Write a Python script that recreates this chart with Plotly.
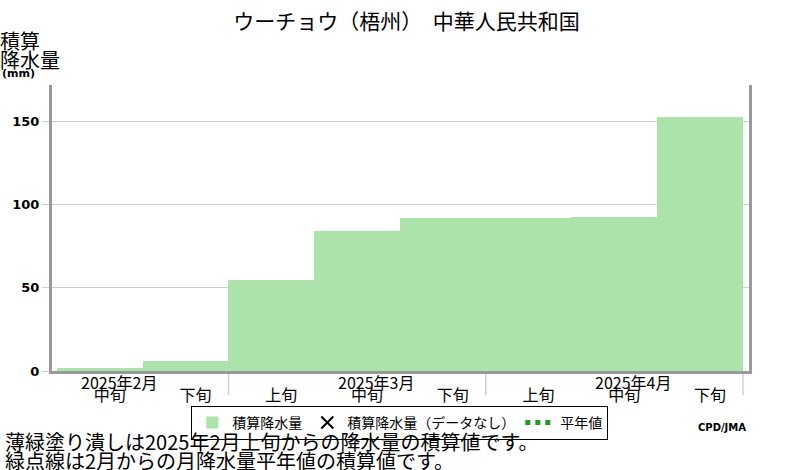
import plotly.graph_objects as go

# ---- data ----
dekads = ["2月中旬", "2月下旬", "3月上旬", "3月中旬", "3月下旬", "4月上旬", "4月中旬", "4月下旬"]
dekad_labels = ["中旬", "下旬", "上旬", "中旬", "下旬", "上旬", "中旬", "下旬"]
cum_precip = [1.6, 6.3, 54.5, 84.0, 91.8, 92.0, 92.4, 152.7]
month_labels = ["2025年2月", "2025年3月", "2025年4月"]
month_label_at = ["2月中旬", "3月中旬", "4月中旬"]
month_bounds = [1.5, 4.5, 7.5]
y_ticks = [0, 50, 100, 150]

FONT = "Noto Sans CJK JP"
BAR = "#ace3aa"
GRID = "#d0d0d0"
AXIS = "#999999"

fig = go.Figure()
fig.add_trace(go.Bar(x=dekads, y=cum_precip, name="積算降水量",
                     marker=dict(color=BAR, line=dict(width=0)), width=1.0))
fig.add_trace(go.Scatter(x=[None], y=[None], mode="markers", name="積算降水量（データなし）",
                         marker=dict(symbol="x-thin", color="black", size=5,
                                     line=dict(width=2, color="black"))))
fig.add_trace(go.Scatter(x=[None], y=[None], mode="lines", name="平年値",
                         line=dict(color="#229922", width=2, dash="dot")))

fig.update_layout(
    width=800, height=470,
    margin=dict(l=52, r=51, t=85, b=99, autoexpand=False),
    paper_bgcolor="white", plot_bgcolor="white",
    font=dict(family=FONT, color="black"),
    bargap=0,
    title=dict(text="ウーチョウ（梧州）　中華人民共和国", font=dict(family=FONT, size=21),
               xref="container", yref="container", x=0.508, y=1 - 22 / 470,
               xanchor="center", yanchor="middle"),
    showlegend=True,
    legend=dict(orientation="h", x=0.499, y=-0.122, xanchor="center", yanchor="top",
                bordercolor="black", borderwidth=1, bgcolor="rgba(255,255,255,0)",
                font=dict(family=FONT, size=14),
                itemwidth=30, tracegroupgap=0, itemsizing="constant"),
)

fig.update_xaxes(
    type="category", categoryorder="array", categoryarray=dekads,
    range=[-0.558, 7.57], automargin=False,
    tickmode="array", tickvals=dekads, ticktext=dekad_labels,
    ticks="", ticklabelstandoff=8, ticklabelshift=10,
    tickfont=dict(family=FONT, size=16),
    showgrid=False, zeroline=False,
    showline=True, linecolor=AXIS, linewidth=3, mirror=False,
)
fig.update_yaxes(
    range=[0, 172], tickmode="array", tickvals=y_ticks, automargin=False,
    ticks="outside", ticklen=7, tickcolor=GRID, tickwidth=1,
    tickfont=dict(family="DejaVu Sans", size=13, weight="bold"),
    showgrid=True, gridcolor=GRID, gridwidth=1, zeroline=False,
    showline=True, linecolor=AXIS, linewidth=3, mirror=True,
)

# month labels and month separators
for lab, at in zip(month_labels, month_label_at):
    fig.add_annotation(x=at, y=0, xref="x", yref="paper", text=lab, showarrow=False,
                       xshift=19, yshift=-11, font=dict(family=FONT, size=16),
                       xanchor="center", yanchor="middle")
for b in month_bounds:
    fig.add_shape(type="line", xref="x", yref="paper", x0=b, x1=b, y0=0, y1=-0.085,
                  line=dict(color=GRID, width=1.5), layer="below")

# texts placed in pixel terms relative to the plot area
def px_x(px):
    return (px - 52) / 697

def px_y(py):
    return (371 - py) / 286

def ann(text, xp, yp, size, xanchor="left", bold=False, family=FONT):
    fig.add_annotation(x=px_x(xp), y=px_y(yp), xref="paper", yref="paper", text=text,
                       showarrow=False, xanchor=xanchor, yanchor="middle",
                       font=dict(family=family, size=size, weight="bold" if bold else "normal"))

ann("積算", -2, 40, 20)
ann("降水量", -2, 59, 20)
ann("(mm)", 0, 74, 11, bold=True, family="DejaVu Sans")
ann("CPD/JMA", 748, 427, 10, xanchor="right", bold=True, family="DejaVu Sans")
ann("薄緑塗り潰しは2025年2月上旬からの降水量の積算値です。", 3, 441, 20)
ann("緑点線は2月からの月降水量平年値の積算値です。", 3, 460, 20)

fig.write_html("out.html", config={"displayModeBar": False},
               post_script="document.body.style.margin='0';")
